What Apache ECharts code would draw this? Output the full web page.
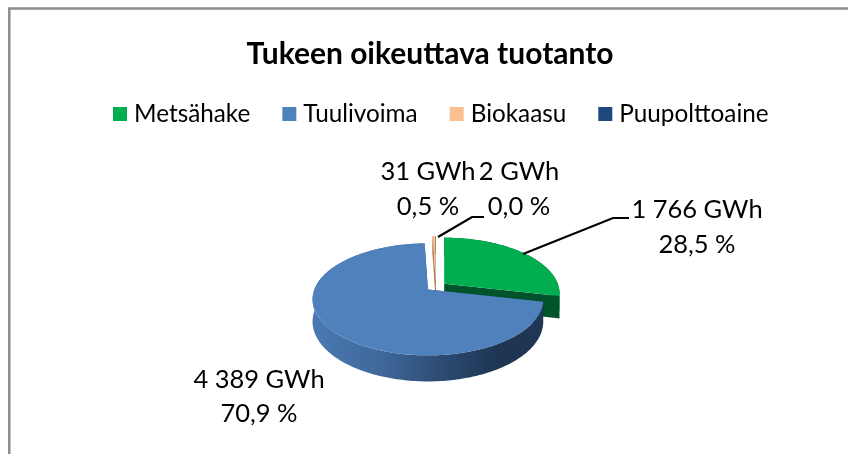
<!DOCTYPE html>
<html><head><meta charset="utf-8">
<style>html,body{margin:0;padding:0;background:#fff}#c{width:848px;height:454px}</style>
<script src="https://cdn.jsdelivr.net/npm/echarts@6/dist/echarts.min.js"></script>
</head><body><div id="c"></div>
<script>
const categories = ['Metsähake', 'Tuulivoima', 'Biokaasu', 'Puupolttoaine'];
const valuesGWh = [1766, 4389, 31, 2];
const valueLabels = ['1 766 GWh', '4 389 GWh', '31 GWh', '2 GWh'];
const percentLabels = ['28,5 %', '70,9 %', '0,5 %', '0,0 %'];
const colors = ['#00AE50', '#4F81BD', '#FAC090', '#1F497D'];

const total = valuesGWh.reduce((a, b) => a + b, 0);
const sideColors = ['#00532A', null, '#B5763F', '#14304F'];
const FONT = 'Lato, "Open Sans", sans-serif';
// view geometry of the tilted disc
const view = {cx: 436, cy: 286.5, rx: 113.5, ry: 54.2, persp: 0.1786, explode: 10.5, explodeY: 0.43, depth: 21.4};
const labelPos = [[697, 210, 245], [259, 380, 414], [428, 172, 207], [519, 172, 207]];
const leaders = [
  [[523, 254], [613, 218], [629, 218]],
  null,
  null,
  [[438, 237], [472, 217], [484, 217]]
];
const drawOrder = [2, 4, 1, 1];

function project(a, ox, oy, d) {
  const u = Math.sin(a), v = Math.cos(a), w = 1 + view.persp * v;
  return [ox + view.rx * u / w, oy + (d - view.ry * v) / w];
}
function arcPts(a0, a1, ox, oy, d) {
  const n = Math.max(2, Math.ceil((a1 - a0) / 0.02)), p = [];
  for (let i = 0; i <= n; i++) p.push(project(a0 + (a1 - a0) * i / n, ox, oy, d));
  return p;
}
function renderSlice(idx) {
  return function (params, api) {
    const val = api.value(0);
    const before = valuesGWh.slice(0, idx).reduce((a, b) => a + b, 0);
    const a0 = before / total * 2 * Math.PI, a1 = (before + val) / total * 2 * Math.PI;
    const mid = (a0 + a1) / 2;
    const ox = view.cx + view.explode * Math.sin(mid);
    const oy = view.cy - view.explode * view.explodeY * Math.cos(mid);
    const d = view.depth, kids = [];
    const side = sideColors[idx];
    const apex = [ox, oy];
    // cut faces
    [a0, a1].forEach(a => {
      kids.push({type: 'polygon', shape: {points: [apex, project(a, ox, oy, 0), project(a, ox, oy, d), [ox, oy + d]]},
        style: {fill: side || '#2A4A73'}});
    });
    // outer wall
    const top = arcPts(a0, a1, ox, oy, 0), bot = arcPts(a0, a1, ox, oy, d).reverse();
    kids.push({type: 'polygon', shape: {points: top.concat(bot)},
      style: {fill: side || {type: 'linear', x: 0, y: 0, x2: 1, y2: 0, colorStops: [
        {offset: 0, color: '#4A79B2'}, {offset: 0.3, color: '#3F6899'}, {offset: 0.55, color: '#2D4C75'},
        {offset: 0.8, color: '#1E3552'}, {offset: 1, color: '#1F3654'}]}}});
    // top face
    kids.push({type: 'polygon', shape: {points: [apex].concat(top)}, style: {fill: colors[idx]}});
    // leader
    if (leaders[idx]) kids.push({type: 'polyline', shape: {points: leaders[idx]},
      style: {stroke: '#000', lineWidth: 2.2, fill: null}});
    // labels
    const lp = labelPos[idx];
    [[valueLabels[idx], lp[1]], [percentLabels[idx], lp[2]]].forEach(t => kids.push({type: 'text',
      style: {text: t[0], x: lp[0], y: t[1], align: 'center', verticalAlign: 'middle',
        fontFamily: FONT, fontSize: 25.5, fill: '#000'}}));
    return {type: 'group', children: kids};
  };
}
const chart = echarts.init(document.getElementById('c'), null, {renderer: 'canvas'});
chart.setOption({
  animation: false,
  backgroundColor: '#fff',
  title: {text: 'Tukeen oikeuttava tuotanto', left: 425, top: 34, textAlign: 'center',
    textStyle: {fontFamily: FONT, fontSize: 30, fontWeight: 'bold', color: '#000'}},
  legend: {data: categories, left: 108, top: 97, icon: 'rect', itemWidth: 14, itemHeight: 14, itemGap: 32,
    textStyle: {fontFamily: FONT, fontSize: 24.3, color: '#000', padding: [0, 0, 0, 2]}, selectedMode: false},
  graphic: [{type: 'polyline', silent: true, shape: {points: [[9.3, 454], [9.3, 8.5], [848, 8.5]]},
    style: {stroke: '#8C8C8C', lineWidth: 2.5, fill: null}}],
  series: categories.map((n, i) => ({
    type: 'custom', name: n, coordinateSystem: 'none', silent: true, z: drawOrder[i],
    itemStyle: {color: colors[i]}, data: [[valuesGWh[i]]], renderItem: renderSlice(i)
  }))
});
</script></body></html>
